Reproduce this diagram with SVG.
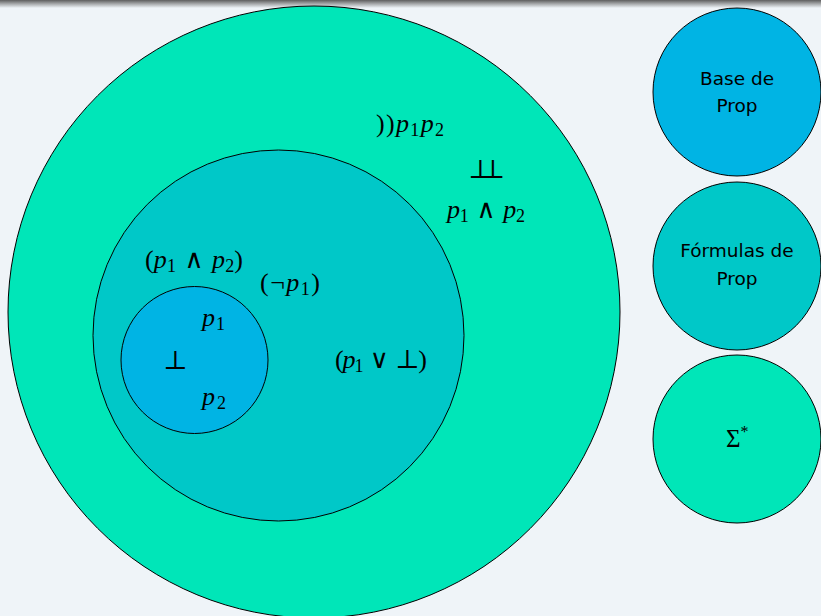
<svg xmlns="http://www.w3.org/2000/svg" width="821" height="616" viewBox="0 0 821 616">
<defs>
<linearGradient id="bar" x1="0" y1="0" x2="0" y2="1">
<stop offset="0" stop-color="#5e5e5e"/>
<stop offset="0.5" stop-color="#a9abad"/>
<stop offset="1" stop-color="#eff4f8"/>
</linearGradient>
<style>
.c{stroke:#000;stroke-width:1}
.l1{fill:#00e6b8}
.l2{fill:#00c8c8}
.l3{fill:#00b4e4}
.m{font-family:"Liberation Serif",serif;font-size:26px;fill:#000}
.i{font-style:italic}
.s{font-size:18px;font-style:normal}
.y{font-family:"DejaVu Serif",serif;font-size:26px}
.t{font-family:"DejaVu Sans","Liberation Sans",sans-serif;font-size:18.5px;fill:#000;text-anchor:middle}
</style>
</defs>
<rect x="0" y="0" width="821" height="616" fill="#eff4f8"/>
<rect x="0" y="0" width="821" height="8" fill="url(#bar)"/>
<g id="sigma-star-set">
<circle class="c l1" cx="314" cy="312" r="306"/>
<text class="m" x="376" y="132" textLength="68">))<tspan class="i">p</tspan><tspan class="s" dy="4">1</tspan><tspan class="i" dy="-4">p</tspan><tspan class="s" dy="4">2</tspan></text>
<text class="m" x="468" y="178" textLength="37"><tspan class="y">⊥⊥</tspan></text>
<text class="m" x="447" y="218" textLength="78"><tspan class="i">p</tspan><tspan class="s" dy="4">1</tspan><tspan class="y" dy="-4"> ∧ </tspan><tspan class="i">p</tspan><tspan class="s" dy="4">2</tspan></text>
</g>
<g id="formulas-set">
<circle class="c l2" cx="278.5" cy="335.5" r="185.5"/>
<text class="m" x="145" y="268" textLength="98">(<tspan class="i">p</tspan><tspan class="s" dy="4">1</tspan><tspan class="y" dy="-4"> ∧ </tspan><tspan class="i">p</tspan><tspan class="s" dy="4">2</tspan><tspan dy="-4">)</tspan></text>
<text class="m" x="260" y="291" textLength="60">(¬<tspan class="i">p</tspan><tspan class="s" dy="4">1</tspan><tspan dy="-4">)</tspan></text>
<text class="m" x="335" y="368" textLength="92">(<tspan class="i">p</tspan><tspan class="s" dy="4">1</tspan><tspan class="y" dy="-4"> ∨ ⊥</tspan>)</text>
</g>
<g id="base-set">
<circle class="c l3" cx="194.5" cy="360" r="73.5"/>
<text class="m" x="202" y="326" textLength="23"><tspan class="i">p</tspan><tspan class="s" dy="4">1</tspan></text>
<text class="m" x="163" y="369" textLength="17"><tspan class="y">⊥</tspan></text>
<text class="m" x="202" y="405" textLength="24"><tspan class="i">p</tspan><tspan class="s" dy="4">2</tspan></text>
</g>
<g id="legend-base">
<circle class="c l3" cx="737" cy="92" r="84"/>
<text class="t" x="737" y="85">Base de</text>
<text class="t" x="737" y="112">Prop</text>
</g>
<g id="legend-formulas">
<circle class="c l2" cx="737" cy="266" r="84"/>
<text class="t" x="737" y="257">Fórmulas de</text>
<text class="t" x="737" y="285">Prop</text>
</g>
<g id="legend-sigma">
<circle class="c l1" cx="737" cy="439" r="84"/>
<text class="m" x="726" y="447" style="font-size:25px">Σ<tspan style="font-size:16px" dy="-10">*</tspan></text>
</g>
<g id="connectors"/>
</svg>
